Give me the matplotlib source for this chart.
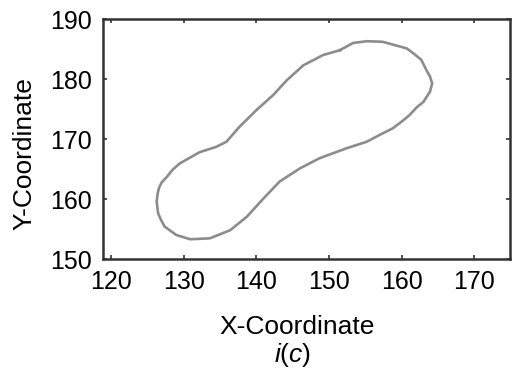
import matplotlib
matplotlib.use("Agg")
import matplotlib.pyplot as plt

# outline of the shape (clockwise from the top)
x_coord = [151.5, 153.3, 155.2, 157.4, 160.7, 161.7, 162.7, 163.4, 163.9, 164.2,
           163.9, 163.0, 162.0, 161.1, 160.0, 158.8, 157.0, 155.2, 152.4, 148.7,
           146.0, 143.2, 141.0, 138.7, 136.4, 133.6, 130.9, 129.0, 127.4, 126.9,
           126.5, 126.3, 126.4, 126.6, 127.0, 127.7, 128.5, 129.5, 132.2, 134.5,
           135.9, 137.7, 140.0, 142.3, 144.2, 146.5, 149.2, 151.5]
y_coord = [184.8, 186.0, 186.3, 186.2, 185.1, 184.2, 183.2, 181.5, 180.4, 179.3,
           177.9, 176.2, 175.2, 174.0, 172.9, 171.8, 170.7, 169.55, 168.45, 166.8,
           165.1, 162.9, 160.1, 157.05, 154.8, 153.45, 153.3, 154.0, 155.4, 156.5,
           157.6, 159.55, 160.7, 161.8, 162.8, 163.7, 164.9, 165.95, 167.8, 168.7,
           169.55, 172.05, 174.8, 177.3, 179.8, 182.3, 184.0, 184.8]
x_ticks = [120, 130, 140, 150, 160, 170]
y_ticks = [150, 160, 170, 180, 190]

plt.rcParams["font.family"] = ["Liberation Sans", "DejaVu Sans"]
plt.rcParams["mathtext.fontset"] = "custom"
plt.rcParams["mathtext.rm"] = "Liberation Sans"
plt.rcParams["mathtext.it"] = "Liberation Sans:italic"

fig = plt.figure(figsize=(5.12, 3.69), dpi=100)
ax = fig.add_axes([0.201, 0.298, 0.795, 0.6505])

ax.plot(x_coord, y_coord, color="#8c8c8c", lw=1.9, solid_joinstyle="round")

ax.set_xlim(118.9, 174.9)
ax.set_ylim(150, 190)
ax.set_xticks(x_ticks)
ax.set_yticks(y_ticks)
ax.tick_params(direction="in", length=3, width=1.2, color="#333333",
               labelsize=18, top=True, right=True, pad=8)
for s in ax.spines.values():
    s.set_color("#333333")
    s.set_linewidth(1.8)

ax.set_xlabel("X-Coordinate", fontsize=19)
ax.set_ylabel("Y-Coordinate", fontsize=19)
ax.xaxis.set_label_coords(0.477, -0.235)
ax.yaxis.set_label_coords(-0.162, 0.44)

fig.text(0.572, 0.038, r"$i$($c$)", fontsize=19, ha="center", va="center")

fig.savefig("out.png", dpi=100)
